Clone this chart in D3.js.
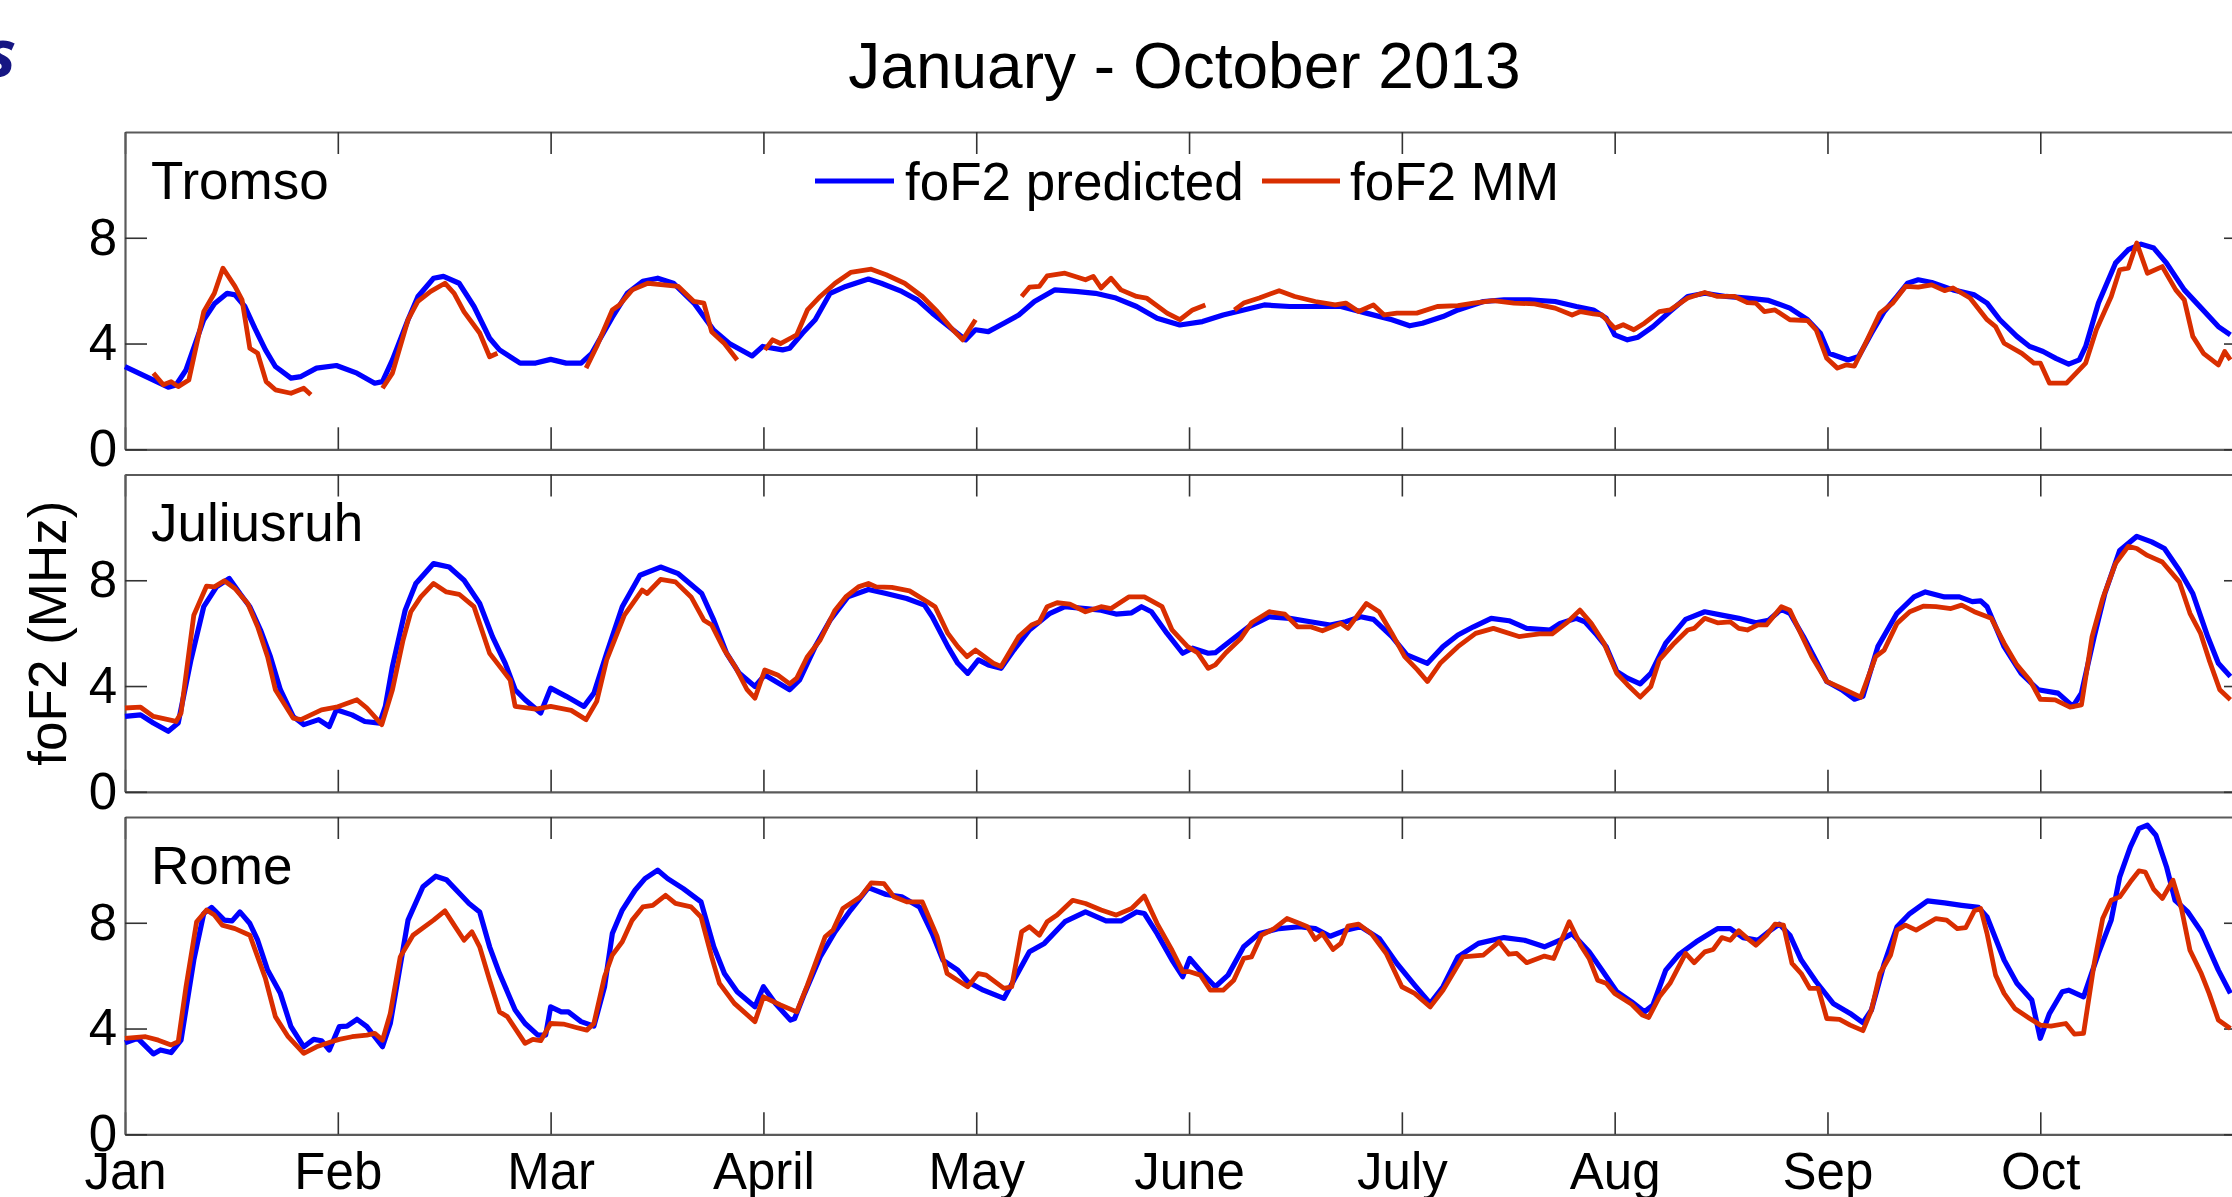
<!DOCTYPE html>
<html>
<head>
<meta charset="utf-8">
<script src="https://cdn.jsdelivr.net/npm/d3@7"></script>
<style>
  html, body { margin: 0; padding: 0; background: #fff; overflow: hidden; }
  svg { display: block; }
  text { font-family: "Liberation Sans", Arial, Helvetica, sans-serif; fill: #000; }
</style>
</head>
<body>
<svg id="chart" width="2232" height="1197"></svg>
<script>
// Day of year (0 = 1 January 2013) and foF2 in MHz
const monthTicks = [0, 30, 60, 90, 120, 150, 180, 210, 240, 270];
const monthLabels = ["Jan", "Feb", "Mar", "April", "May", "June", "July", "Aug", "Sep", "Oct"];
const valueTicks = [0, 4, 8];
const stations = ["Tromso", "Juliusruh", "Rome"];
const seriesNames = ["foF2 predicted", "foF2 MM"];

const tromsoPredicted = [[0,3.13],[6.1,2.35],[7.2,2.43],[8.6,3.0],[11.1,4.9],[12.6,5.5],[14.4,5.9],[15.5,5.84],[16.9,5.4],[18.3,4.58],[19.8,3.76],[21.2,3.13],[23.4,2.69],[24.8,2.75],[27,3.07],[29.8,3.17],[32.7,2.88],[35.2,2.5],[36.3,2.56],[37.7,3.38],[39.9,4.9],[41.3,5.78],[43.5,6.47],[44.9,6.54],[47.1,6.28],[49.2,5.4],[51.4,4.2],[52.8,3.76],[55.7,3.26],[57.9,3.26],[60,3.4],[62.2,3.26],[64.3,3.26],[65.8,3.63],[68.7,5.0],[70.8,5.9],[73,6.35],[75.1,6.47],[77.3,6.28],[80.2,5.53],[83,4.5],[85.2,4.0],[88.4,3.53],[89.9,3.89],[92.7,3.76],[93.7,3.82],[95.5,4.39],[97.3,4.9],[99.4,5.9],[101.6,6.16],[104.8,6.44],[106.6,6.28],[109.5,5.97],[111.7,5.65],[113.8,5.15],[116.7,4.52],[118.5,4.14],[119.9,4.52],[121.7,4.45],[123.9,4.77],[126,5.08],[128.2,5.59],[131.1,6.03],[134,5.97],[136.8,5.9],[139.7,5.72],[142.6,5.4],[145.5,4.96],[148.7,4.7],[151.9,4.83],[154.8,5.08],[157.7,5.27],[160.6,5.46],[164.2,5.4],[167.8,5.4],[171.4,5.4],[175,5.15],[178.6,4.9],[181.1,4.67],[182.9,4.77],[185.8,5.02],[187.9,5.27],[191.5,5.59],[194.4,5.65],[198,5.65],[201.6,5.59],[204.6,5.4],[207,5.27],[208.8,4.96],[210,4.33],[211.8,4.14],[213.3,4.24],[215.4,4.64],[217.8,5.21],[220.3,5.78],[222.7,5.9],[225.7,5.78],[228.7,5.72],[231.7,5.63],[234.7,5.34],[237.2,4.9],[239,4.39],[240.2,3.63],[242.9,3.38],[244.4,3.51],[246.2,4.39],[248,5.21],[249.8,5.78],[251.3,6.28],[252.8,6.41],[254.7,6.31],[257.7,6.03],[260.7,5.84],[262.5,5.53],[264.3,4.9],[266.7,4.27],[268.5,3.89],[270.4,3.7],[272.2,3.44],[274,3.22],[275.5,3.38],[276.4,3.89],[278.2,5.53],[280.6,7.04],[282.4,7.55],[284.2,7.76],[286,7.61],[287.8,7.04],[290.3,6.03],[292.7,5.34],[295.1,4.64],[296.8,4.33]];

// null entries mark days without ionosonde data
const tromsoMM = [[4,2.88],[5.4,2.44],[6.5,2.56],[7.5,2.37],[9,2.62],[11.1,5.2],[12.6,5.9],[13.8,6.85],[15.5,6.16],[16.5,5.65],[17.6,3.82],[18.7,3.63],[19.9,2.56],[21.2,2.25],[23.4,2.12],[25.2,2.31],[26.2,2.06],[30,null],[36.3,2.31],[37.7,2.88],[39.9,4.9],[41.3,5.6],[43.1,5.97],[45.1,6.28],[46.4,5.9],[47.8,5.2],[50,4.4],[51.4,3.5],[52.5,3.63],[58,null],[65,3.07],[66.5,3.89],[68.7,5.27],[69.7,5.46],[71.5,6.03],[73.7,6.28],[75.9,6.22],[78,6.16],[80.2,5.59],[81.6,5.53],[82.7,4.45],[84.5,4.0],[86.3,3.38],[88,null],[90.2,3.76],[91.3,4.14],[92.4,4.0],[93.8,4.2],[94.7,4.33],[96.2,5.27],[98,5.78],[100.1,6.28],[102.3,6.69],[105.2,6.81],[107.3,6.6],[109.9,6.28],[112.4,5.78],[114.5,5.21],[116.7,4.52],[118.1,4.14],[119.9,4.9],[123,null],[126.4,5.78],[127.5,6.13],[128.9,6.16],[130,6.56],[132.5,6.66],[135.4,6.41],[136.5,6.54],[137.6,6.1],[139,6.47],[140.4,6.03],[142.6,5.78],[144,5.72],[146.9,5.15],[148.7,4.9],[150.5,5.27],[152.3,5.46],[154,null],[156.4,5.27],[157.7,5.53],[159.9,5.72],[162.7,6.0],[164.9,5.78],[167.8,5.59],[170.6,5.46],[172.1,5.53],[173.9,5.21],[176,5.46],[177.5,5.08],[179.3,5.15],[182.1,5.15],[185,5.4],[187.9,5.43],[190.1,5.53],[192.9,5.62],[195.8,5.53],[198.7,5.5],[201.6,5.34],[204,5.08],[205.2,5.21],[207,5.12],[208.2,5.08],[210,4.58],[211.2,4.71],[212.7,4.52],[214.2,4.77],[216.3,5.21],[217.8,5.27],[220.3,5.72],[222.7,5.93],[224.5,5.78],[226.9,5.78],[228.7,5.55],[229.9,5.53],[231.1,5.21],[232.6,5.27],[234.7,4.9],[237.2,4.87],[238.4,4.52],[239.9,3.44],[241.4,3.07],[242.6,3.19],[243.8,3.15],[245.6,4.14],[247.4,5.15],[249.2,5.53],[251,6.16],[252.8,6.13],[254.7,6.22],[256.5,6.0],[257.7,6.1],[260.1,5.72],[262.5,4.9],[263.7,4.64],[264.9,4.01],[267.4,3.63],[269.1,3.26],[270,3.26],[271.3,2.5],[273.7,2.5],[276.4,3.26],[277.9,4.52],[280,5.78],[281.2,6.79],[282.4,6.85],[283.6,7.8],[285.1,6.66],[287.2,6.91],[289.1,6.03],[290.3,5.65],[291.5,4.27],[293,3.63],[295.1,3.19],[296,3.7],[296.8,3.38]];

const juliusruhPredicted = [[0,2.85],[2.2,2.91],[4,2.6],[6.1,2.29],[7.5,2.6],[9.3,4.99],[11.1,7.0],[12.9,7.75],[14.7,8.07],[16.2,7.5],[17.6,7.0],[19.1,6.12],[20.5,5.11],[21.9,3.86],[23.7,2.85],[25.2,2.54],[27.3,2.73],[28.8,2.47],[29.8,3.1],[32,2.91],[33.8,2.66],[35.9,2.6],[36.7,3.23],[37.7,4.74],[39.5,6.87],[41,7.88],[43.5,8.63],[45.7,8.5],[47.8,8.0],[50,7.12],[51.8,5.87],[53.6,4.86],[55,3.86],[56.4,3.48],[58.6,2.98],[60,3.92],[62.2,3.61],[64.7,3.23],[66.1,3.73],[67.9,5.24],[70.1,7.0],[72.6,8.19],[75.5,8.5],[78,8.25],[81.3,7.5],[83,6.49],[84.8,5.24],[86.6,4.48],[88.8,3.98],[90.2,4.42],[93.7,3.86],[95.1,4.23],[97.3,5.49],[99.4,6.49],[101.9,7.37],[104.8,7.65],[107.3,7.5],[110.2,7.31],[112.7,7.06],[113.8,6.62],[116,5.49],[117.4,4.86],[118.8,4.48],[120.3,4.99],[121.7,4.8],[123.5,4.67],[125.3,5.36],[127.5,6.12],[130.4,6.75],[132.5,7.0],[135.4,6.93],[137.6,6.87],[139.7,6.72],[141.9,6.77],[143.3,7.0],[144.7,6.81],[146.9,5.99],[149.1,5.24],[150.5,5.43],[152.7,5.24],[153.7,5.26],[155.5,5.64],[158.4,6.24],[161.3,6.62],[164.2,6.56],[167.1,6.43],[169.9,6.31],[172.1,6.43],[174.2,6.62],[176,6.52],[178.6,5.87],[180.7,5.18],[183.6,4.86],[185.8,5.49],[187.9,5.93],[190.1,6.24],[192.6,6.56],[195.1,6.47],[197.6,6.18],[200.9,6.12],[202.3,6.37],[204.6,6.56],[205.8,6.43],[207.3,5.99],[208.8,5.49],[210.3,4.55],[211.8,4.3],[213.6,4.08],[215.1,4.48],[217.2,5.62],[220,6.52],[222.7,6.81],[225.1,6.68],[227.5,6.56],[229.9,6.39],[231.7,6.49],[233.5,6.9],[234.7,6.75],[236.6,5.87],[238.1,5.11],[239.9,4.17],[242,3.86],[243.8,3.5],[245,3.61],[247.1,5.49],[249.8,6.75],[252.2,7.37],[253.8,7.56],[256.5,7.37],[258.6,7.37],[260.4,7.19],[261.6,7.22],[262.5,7.0],[264.9,5.49],[267.3,4.48],[269.7,3.86],[272.5,3.73],[274.6,3.23],[275.8,3.73],[277.6,5.87],[279.1,7.5],[281.2,9.13],[283.6,9.66],[285.7,9.45],[287.5,9.2],[289.6,8.38],[291.5,7.5],[293.6,5.87],[295.1,4.86],[296.8,4.36]];

const juliusruhMM = [[0,3.17],[2.2,3.2],[4,2.85],[7.2,2.66],[7.9,2.98],[9.7,6.68],[11.5,7.78],[12.6,7.75],[14,7.98],[15.5,7.69],[17.3,7.12],[18.7,6.24],[20.1,5.11],[21.2,3.86],[23.7,2.79],[24.8,2.73],[27.7,3.1],[29.8,3.2],[32.7,3.48],[34.1,3.17],[36.2,2.54],[37.7,3.86],[39.2,5.74],[40.3,6.81],[41.7,7.37],[43.5,7.88],[45.3,7.56],[47.1,7.47],[49.2,7.0],[51.4,5.24],[53.2,4.61],[54.3,4.23],[55,3.23],[57.9,3.13],[60,3.23],[62.9,3.08],[65,2.73],[66.5,3.42],[67.9,4.99],[70.4,6.68],[72.9,7.63],[73.6,7.5],[75.5,8.03],[77.6,7.94],[79.8,7.37],[81.6,6.49],[82.7,6.31],[84.5,5.36],[86,4.74],[87.7,3.86],[88.8,3.54],[90.2,4.61],[92,4.42],[93.7,4.08],[94.7,4.3],[96.2,5.11],[98,5.74],[100.1,6.87],[101.6,7.37],[103.4,7.75],[104.8,7.88],[105.9,7.75],[108.1,7.73],[110.6,7.6],[113.1,7.19],[114.2,7.0],[116,5.99],[117.4,5.49],[118.7,5.11],[119.9,5.36],[122.4,4.86],[123.5,4.74],[126,5.87],[127.8,6.31],[128.9,6.43],[130,7.0],[131.4,7.15],[133.2,7.1],[135.4,6.81],[137.6,7.0],[139,6.93],[141.5,7.37],[143.7,7.37],[146.2,7.0],[147.6,6.12],[149.8,5.49],[151.2,5.26],[152.7,4.67],[153.7,4.8],[155.2,5.26],[157.3,5.8],[158.8,6.39],[161.3,6.81],[163.5,6.72],[165.3,6.24],[167.1,6.24],[168.8,6.09],[171.4,6.37],[172.4,6.18],[175,7.12],[176.8,6.81],[178.6,5.99],[180.4,5.11],[182.2,4.61],[183.6,4.17],[185.4,4.86],[187.9,5.49],[190.4,5.99],[192.9,6.18],[196.5,5.87],[199.4,5.97],[201.2,5.97],[203.4,6.43],[205.1,6.87],[206.7,6.37],[208.5,5.62],[210.3,4.48],[211.8,4.05],[213.6,3.58],[215.1,3.98],[216.3,4.99],[218.4,5.62],[220.3,6.12],[221.2,6.18],[222.7,6.56],[224.5,6.39],[226.3,6.43],[227.5,6.18],[228.7,6.12],[230.2,6.31],[231.4,6.31],[233.5,7.0],[234.7,6.87],[236,6.12],[237.8,5.11],[239.9,4.17],[242,3.92],[244.7,3.58],[246.8,5.11],[248,5.36],[249.8,6.37],[251.6,6.81],[253.5,7.02],[255.3,7.0],[257.4,6.93],[258.9,7.06],[260.7,6.81],[263.1,6.56],[264.9,5.62],[266.7,4.8],[268.5,4.23],[270,3.5],[272.1,3.48],[274.2,3.2],[275.8,3.29],[277.3,5.87],[278.8,7.31],[280.6,8.63],[282.4,9.28],[283.6,9.2],[285.1,8.94],[287.2,8.69],[289.6,7.94],[291.1,6.75],[292.6,5.99],[293.8,4.99],[295.3,3.86],[296.8,3.48]];

const romePredicted = [[0,3.46],[1.8,3.63],[4,3.04],[5,3.19],[6.5,3.09],[7.9,3.56],[9.7,6.59],[11.1,8.35],[12.2,8.58],[14,8.1],[15.1,8.07],[16.2,8.41],[17.6,7.97],[18.7,7.34],[20.1,6.21],[21.9,5.33],[23.4,4.07],[25.2,3.31],[26.6,3.59],[27.7,3.54],[28.8,3.19],[30.2,4.07],[31.3,4.09],[32.7,4.35],[34.1,4.07],[36.3,3.31],[37.4,4.19],[39.9,8.1],[42,9.36],[43.8,9.76],[45.3,9.63],[47.4,9.04],[48.5,8.73],[50,8.41],[51.4,7.09],[52.8,6.08],[55,4.7],[56.4,4.19],[58.2,3.75],[59.3,3.75],[60,4.82],[61.5,4.63],[62.5,4.63],[64.3,4.26],[66.1,4.09],[67.6,5.58],[68.7,7.59],[70.1,8.48],[71.9,9.23],[73.3,9.67],[75.1,9.99],[76.5,9.67],[78.7,9.29],[81.2,8.79],[83,7.09],[84.5,6.08],[86.3,5.39],[88.8,4.82],[90,5.58],[91.7,4.95],[93.8,4.32],[94.4,4.38],[95.8,5.33],[98,6.71],[100.1,7.66],[102.3,8.48],[104.8,9.33],[107.3,9.07],[109.5,8.98],[112,8.6],[113.8,7.59],[115.3,6.59],[117.4,6.21],[118.8,5.77],[121,5.45],[123.9,5.14],[125.3,5.83],[127.5,6.9],[129.6,7.22],[132.5,8.04],[135.4,8.41],[138.3,8.07],[140.4,8.07],[142.6,8.41],[143.7,8.35],[145.5,7.59],[147.6,6.59],[149.1,5.96],[150.1,6.65],[151.9,6.08],[153.7,5.58],[155.5,6.02],[157.7,7.09],[159.9,7.59],[162.7,7.78],[165.6,7.85],[167.8,7.78],[169.9,7.49],[172.1,7.72],[174.2,7.85],[176.8,7.41],[179.3,6.46],[181.8,5.64],[184,4.95],[185.8,5.58],[187.9,6.71],[190.8,7.22],[194.4,7.44],[197.3,7.34],[200.1,7.09],[202.3,7.34],[204,7.59],[206.4,6.9],[208.2,6.21],[210.3,5.39],[212.4,5.01],[214.2,4.63],[215.4,4.89],[217.2,6.21],[219.1,6.81],[221.5,7.28],[224.5,7.78],[226.3,7.78],[228.1,7.44],[230.2,7.34],[231.7,7.66],[233.2,7.95],[234.7,7.53],[236.3,6.59],[238.4,5.77],[240.8,4.95],[243.2,4.57],[245,4.22],[246.2,4.7],[248,6.46],[249.8,7.85],[251.6,8.35],[254.1,8.83],[256.5,8.75],[258.9,8.66],[261.3,8.58],[262.5,8.22],[264.9,6.59],[266.7,5.71],[268.8,5.08],[270,3.63],[271.3,4.57],[273.1,5.39],[274,5.45],[276.1,5.2],[278.2,6.84],[280,8.1],[281.2,9.74],[282.7,10.87],[283.9,11.56],[285.1,11.69],[286.3,11.31],[287.8,10.11],[289,8.85],[290.8,8.41],[292.7,7.66],[295.1,6.21],[296.8,5.33]];

const romeMM = [[0,3.63],[2.9,3.69],[4.7,3.56],[6.5,3.38],[7.5,3.5],[8.6,5.58],[10.1,8.04],[11.5,8.48],[12.6,8.29],[13.7,7.91],[15.5,7.78],[17.6,7.53],[18.7,6.71],[19.8,5.89],[21.2,4.45],[23,3.69],[25.2,3.06],[27,3.31],[29.1,3.5],[30.2,3.59],[32,3.69],[34.1,3.75],[35.2,3.82],[36.3,3.56],[37.4,4.57],[38.8,6.71],[40.6,7.53],[43.5,8.1],[45.1,8.45],[46.4,7.91],[47.8,7.34],[48.9,7.66],[50,7.09],[51.4,5.83],[52.8,4.63],[53.9,4.45],[56.4,3.44],[57.5,3.59],[58.6,3.54],[60,4.19],[61.8,4.17],[63.6,4.04],[65.1,3.94],[66.1,4.19],[67.6,5.96],[68.7,6.78],[70.1,7.28],[71.5,8.1],[73,8.6],[74.4,8.66],[76.2,9.04],[77.6,8.73],[79.8,8.6],[81.2,8.22],[82.7,6.71],[83.8,5.71],[85.9,4.95],[88.8,4.26],[90,5.2],[92.4,4.89],[94.7,4.63],[96.2,5.64],[98.7,7.47],[99.8,7.72],[101.2,8.54],[103.7,8.98],[105.2,9.51],[107,9.48],[108.4,8.98],[110.2,8.79],[112.4,8.79],[114.5,7.47],[115.9,6.08],[118.8,5.58],[120.3,6.08],[121.4,6.02],[123.9,5.52],[125,5.58],[126.4,7.66],[127.5,7.85],[128.9,7.53],[130,8.04],[131.4,8.29],[133.6,8.85],[135.4,8.73],[137.6,8.48],[139.7,8.29],[141.9,8.54],[143.7,9.01],[145.5,7.97],[147.6,6.96],[149.1,6.15],[150.1,6.15],[151.6,6.02],[153,5.45],[154.8,5.45],[156.3,5.83],[157.7,6.65],[158.8,6.71],[160.2,7.53],[162,7.78],[163.8,8.16],[165.6,7.97],[166.7,7.85],[167.8,7.37],[168.8,7.59],[170.3,6.99],[171.4,7.22],[172.4,7.87],[173.9,7.95],[175.7,7.59],[177.8,6.84],[180,5.58],[181.8,5.33],[184,4.82],[185.8,5.45],[188.6,6.71],[191.5,6.78],[193.7,7.28],[195.1,6.81],[196.2,6.84],[197.6,6.49],[200.1,6.74],[201.4,6.65],[203.6,8.04],[205.2,7.15],[206.4,6.65],[207.6,5.83],[208.8,5.71],[210,5.33],[212.4,4.92],[213.9,4.51],[214.8,4.42],[216.3,5.2],[217.8,5.71],[220,6.84],[221.2,6.49],[222.7,6.9],[223.9,6.99],[225.1,7.44],[226.3,7.34],[227.5,7.7],[228.7,7.41],[229.9,7.15],[231.4,7.53],[232.6,7.95],[233.8,7.91],[235,6.46],[236.3,6.08],[237.5,5.52],[238.7,5.52],[239.9,4.38],[241.7,4.35],[243.2,4.13],[245,3.92],[246.2,4.7],[247.4,6.08],[248.9,6.78],[249.8,7.72],[251,7.91],[252.5,7.72],[255.3,8.16],[256.8,8.1],[258.3,7.78],[259.5,7.82],[260.7,8.45],[261.6,8.54],[262.5,7.59],[263.7,6.02],[264.9,5.33],[266.4,4.76],[268.5,4.38],[270,4.13],[271.5,4.09],[273.6,4.19],[274.8,3.79],[276.1,3.82],[277.6,6.46],[278.8,8.16],[280,8.85],[281.2,8.98],[282.7,9.55],[283.9,9.96],[284.8,9.92],[286,9.26],[287.2,8.92],[288.7,9.61],[289.9,8.54],[291.1,6.96],[292.7,6.08],[293.8,5.33],[295.1,4.32],[296.8,4.0]];

const panelData = [
  [tromsoPredicted, tromsoMM],
  [juliusruhPredicted, juliusruhMM],
  [romePredicted, romeMM]
];

// ---- layout ----
const seriesColors = ["#0000ff", "#d92e00"];
const seriesWidths = [5.2, 4.8];
const fontStack = '"Liberation Sans", Arial, Helvetica, sans-serif';
const plotLeft = 125, plotRight = 2246;
const panelTops = [132, 474.5, 817];
const panelHeight = 317.3;
const tickLen = 22;

const svg = d3.select("#chart");

const x = d3.scaleLinear().domain([0, 299]).range([plotLeft, plotRight]);

// partial logo lettering at the top-left corner
svg.append("text")
  .attr("x", 16).attr("y", 77)
  .attr("text-anchor", "end")
  .style("font-family", '"Open Sans", "DejaVu Sans", sans-serif')
  .style("font-weight", "bold")
  .style("font-style", "italic")
  .style("font-size", "66px")
  .style("fill", "#161683")
  .text("s");

// title
svg.append("text")
  .attr("x", (plotLeft + plotRight) / 2 - 1)
  .attr("y", 88)
  .attr("text-anchor", "middle")
  .style("font-size", "64px")
  .text("January - October 2013");

const line = d3.line()
  .defined(d => d[1] !== null)
  .x(d => x(d[0]))
  .y(d => d.yScale(d[1]));

panelData.forEach((pair, i) => {
  const top = panelTops[i];
  const bottom = top + panelHeight;
  const y = d3.scaleLinear().domain([0, 12]).range([bottom, top]);
  const g = svg.append("g");

  const styleAxis = sel => {
    sel.select(".domain").attr("stroke", "#5a5a5a").attr("stroke-width", 2.2);
    sel.selectAll(".tick line").attr("stroke", "#333").attr("stroke-width", 1.6);
    sel.selectAll(".tick text")
      .style("font-family", fontStack)
      .style("font-size", "51px")
      .attr("fill", "#000");
  };

  // bottom axis, month labels only under the last panel
  g.append("g")
    .attr("transform", `translate(0,${bottom})`)
    .call(d3.axisBottom(x)
      .tickValues(monthTicks)
      .tickSizeInner(-tickLen).tickSizeOuter(0)
      .tickPadding(18)
      .tickFormat((d, k) => i === panelData.length - 1 ? monthLabels[k] : ""))
    .call(styleAxis);

  g.append("g")
    .attr("transform", `translate(0,${top})`)
    .call(d3.axisTop(x)
      .tickValues(monthTicks)
      .tickSizeInner(-tickLen).tickSizeOuter(0)
      .tickFormat(""))
    .call(styleAxis);

  g.append("g")
    .attr("transform", `translate(${plotLeft},0)`)
    .call(d3.axisLeft(y)
      .tickValues(valueTicks)
      .tickSizeInner(-tickLen).tickSizeOuter(0)
      .tickPadding(8)
      .tickFormat(d3.format("d")))
    .call(styleAxis);

  g.append("g")
    .attr("transform", `translate(${plotRight},0)`)
    .call(d3.axisRight(y)
      .tickValues(valueTicks)
      .tickSizeInner(-tickLen).tickSizeOuter(0)
      .tickFormat(""))
    .call(styleAxis);

  // the two foF2 curves
  pair.forEach((series, s) => {
    const pts = series.map(d => { const p = [d[0], d[1]]; p.yScale = y; return p; });
    g.append("path")
      .datum(pts)
      .attr("fill", "none")
      .attr("stroke", seriesColors[s])
      .attr("stroke-width", seriesWidths[s])
      .attr("stroke-linejoin", "round")
      .attr("stroke-linecap", "butt")
      .attr("d", line);
  });

  // station name
  g.append("text")
    .attr("x", 151)
    .attr("y", top + 66.5)
    .style("font-size", "53px")
    .text(stations[i]);
});

// legend inside the first panel
const legend = svg.append("g");
const legendItems = [
  { lx0: 815, lx1: 894, tx: 905 },
  { lx0: 1262, lx1: 1340, tx: 1350 }
];
legendItems.forEach((it, s) => {
  legend.append("line")
    .attr("x1", it.lx0).attr("x2", it.lx1)
    .attr("y1", 181).attr("y2", 181)
    .attr("stroke", seriesColors[s])
    .attr("stroke-width", seriesWidths[s]);
  legend.append("text")
    .attr("x", it.tx).attr("y", 200)
    .style("font-size", "53px")
    .text(seriesNames[s]);
});

// shared y-axis title
svg.append("text")
  .attr("transform", `translate(66,${panelTops[1] + panelHeight / 2}) rotate(-90)`)
  .attr("text-anchor", "middle")
  .style("font-size", "53px")
  .text("foF2 (MHz)");
</script>
</body>
</html>
